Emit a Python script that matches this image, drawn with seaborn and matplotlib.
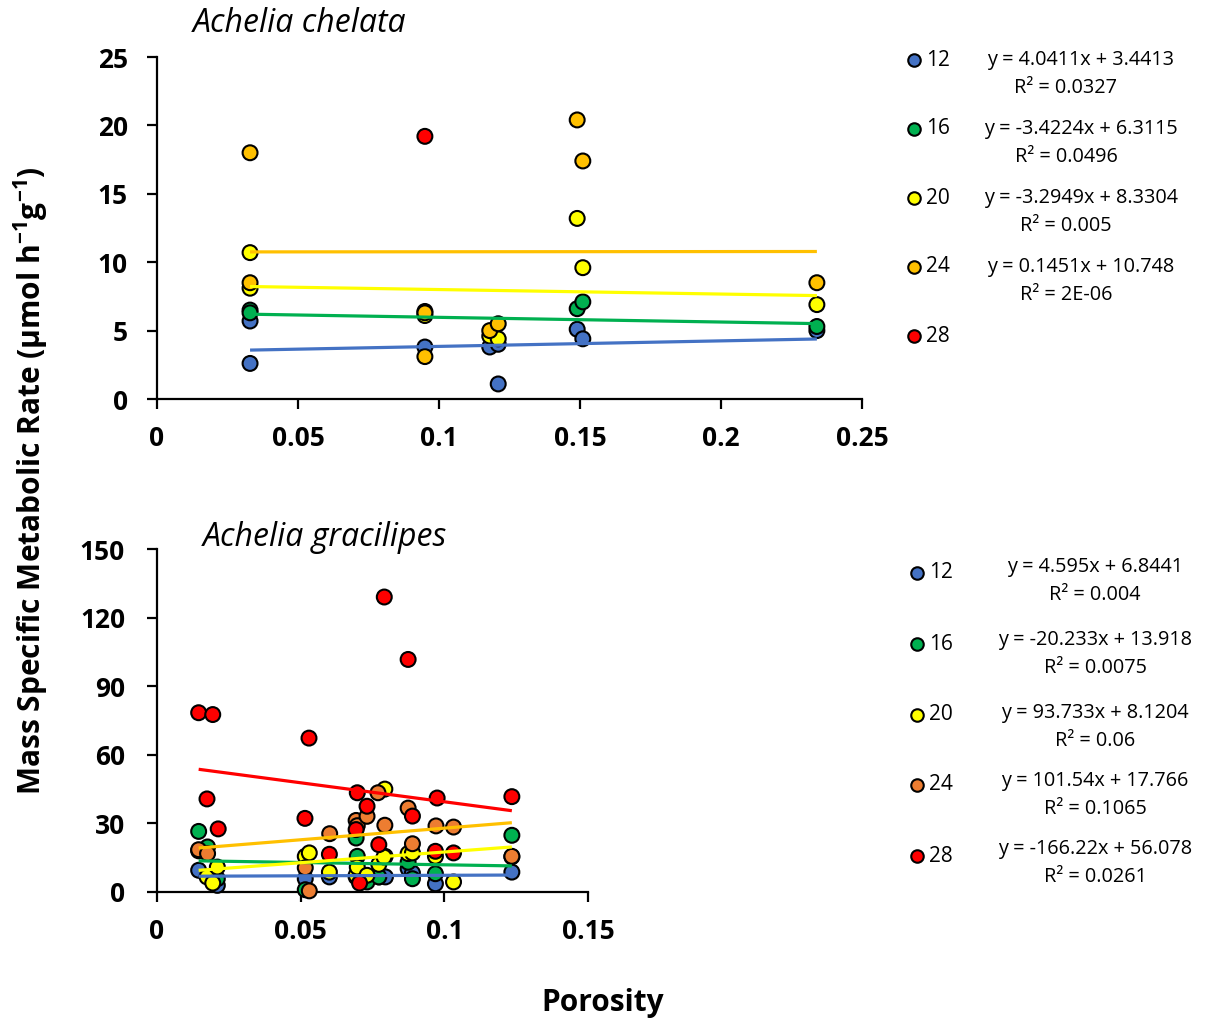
import numpy as np
import pandas as pd
import matplotlib
matplotlib.use("Agg")
import matplotlib.pyplot as plt
from matplotlib.lines import Line2D
import seaborn as sns

# ---------------- data ----------------
temps = ["12", "16", "20", "24", "28"]

# Achelia chelata
top_x_12 = [0.033, 0.033, 0.095, 0.118, 0.121, 0.121, 0.149, 0.151, 0.234]
top_y_12 = [5.7, 2.6, 3.8, 3.8, 4.0, 1.1, 5.1, 4.4, 5.0]
top_x_16 = [0.033, 0.033, 0.095, 0.149, 0.151, 0.234]
top_y_16 = [6.5, 6.3, 6.4, 6.6, 7.1, 5.3]
top_x_20 = [0.033, 0.033, 0.095, 0.118, 0.121, 0.149, 0.151, 0.234]
top_y_20 = [10.7, 8.1, 6.1, 4.6, 4.4, 13.2, 9.6, 6.9]
top_x_24 = [0.033, 0.033, 0.095, 0.095, 0.118, 0.121, 0.149, 0.151, 0.234]
top_y_24 = [18.0, 8.5, 6.3, 3.1, 5.0, 5.5, 20.4, 17.4, 8.5]
top_x_28 = [0.095]
top_y_28 = [19.2]

top_slopes = [4.0411, -3.4224, -3.2949, 0.1451]
top_intercepts = [3.4413, 6.3115, 8.3304, 10.748]
top_r2 = ["0.0327", "0.0496", "0.005", "2E-06"]

# Achelia gracilipes
bot_x_12 = [0.0145, 0.021, 0.0516, 0.060, 0.0693, 0.0773, 0.0795, 0.0874, 0.0889, 0.0969, 0.1235]
bot_y_12 = [9.5, 2.9, 5.8, 6.6, 6.6, 6.6, 6.6, 10.2, 8.3, 3.6, 8.7]
bot_x_16 = [0.0145, 0.0176, 0.021, 0.0516, 0.0693, 0.0697, 0.0731, 0.0772, 0.0794, 0.0874, 0.0889, 0.0969, 0.1235]
bot_y_16 = [26.5, 19.7, 5.8, 1.0, 23.6, 15.6, 4.4, 6.6, 15.6, 13.0, 5.8, 8.0, 24.8]
bot_x_20 = [0.0145, 0.0174, 0.0194, 0.021, 0.0516, 0.053, 0.060, 0.0693, 0.0697, 0.0731, 0.0772, 0.0790, 0.0793, 0.0874, 0.0889, 0.0969, 0.1032, 0.1235]
bot_y_20 = [18.0, 6.6, 3.9, 10.9, 15.6, 17.1, 8.7, 7.3, 10.9, 7.3, 12.1, 15.3, 45.0, 16.8, 17.1, 15.6, 4.4, 15.4]
bot_x_24 = [0.0145, 0.0176, 0.0516, 0.053, 0.0601, 0.0693, 0.0697, 0.0731, 0.0769, 0.0793, 0.0874, 0.0889, 0.0971, 0.1032, 0.1235]
bot_y_24 = [18.5, 16.8, 10.6, 0.5, 25.5, 31.3, 29.0, 33.1, 43.4, 29.2, 36.7, 21.1, 28.9, 28.4, 15.6]
bot_x_28 = [0.0145, 0.0194, 0.0174, 0.0213, 0.0515, 0.0529, 0.060, 0.0693, 0.0697, 0.0705, 0.0731, 0.0772, 0.0791, 0.0874, 0.0889, 0.0969, 0.0975, 0.1032, 0.1235]
bot_y_28 = [78.4, 77.6, 40.7, 27.6, 32.2, 67.3, 16.5, 27.3, 43.4, 3.9, 37.5, 20.7, 129.0, 101.7, 33.2, 17.8, 41.1, 17.1, 41.7]

bot_slopes = [4.595, -20.233, 93.733, 101.54, -166.22]
bot_intercepts = [6.8441, 13.918, 8.1204, 17.766, 56.078]
bot_r2 = ["0.004", "0.0075", "0.06", "0.1065", "0.0261"]

# ---------------- style ----------------
sns.set_theme(style="white")
FONT = "Open Sans"
plt.rcParams["font.family"] = [FONT, "DejaVu Sans"]
plt.rcParams["mathtext.fontset"] = "custom"
plt.rcParams["mathtext.rm"] = FONT
plt.rcParams["mathtext.bf"] = FONT + ":bold"
plt.rcParams["mathtext.default"] = "bf"
plt.rcParams["text.color"] = "black"
plt.rcParams["axes.labelcolor"] = "black"
plt.rcParams["xtick.color"] = "black"
plt.rcParams["ytick.color"] = "black"

top_point_colors = ["#4472C4", "#00B050", "#FFFF00", "#FFC000", "#FF0000"]
bot_point_colors = ["#4472C4", "#00B050", "#FFFF00", "#ED7D31", "#FF0000"]
line_colors = ["#4472C4", "#00B050", "#FFFF00", "#FFC000", "#FF0000"]

W, H = 1207, 1024
fig = plt.figure(figsize=(W / 100, H / 100), dpi=100)
fig.patch.set_facecolor("white")


def fx(px):
    return px / W


def fy(py):
    return 1 - py / H


ax1 = fig.add_axes([fx(157), fy(399), fx(862) - fx(157), fy(57) - fy(399)])
ax2 = fig.add_axes([fx(157), fy(892), fx(588) - fx(157), fy(549) - fy(892)])


def make_df(xs, ys):
    rows = []
    for t, xv, yv in zip(temps, xs, ys):
        for a, b in zip(xv, yv):
            rows.append((t, a, b))
    return pd.DataFrame(rows, columns=["T", "x", "y"])


top_df = make_df([top_x_12, top_x_16, top_x_20, top_x_24, top_x_28],
                 [top_y_12, top_y_16, top_y_20, top_y_24, top_y_28])
bot_df = make_df([bot_x_12, bot_x_16, bot_x_20, bot_x_24, bot_x_28],
                 [bot_y_12, bot_y_16, bot_y_20, bot_y_24, bot_y_28])

for ax, df, pcols, slopes, ints in [
    (ax1, top_df, top_point_colors, top_slopes, top_intercepts),
    (ax2, bot_df, bot_point_colors, bot_slopes, bot_intercepts),
]:
    sns.scatterplot(data=df, x="x", y="y", hue="T", hue_order=temps,
                    palette=dict(zip(temps, pcols)), s=115,
                    edgecolor="black", linewidth=1.5, legend=False,
                    ax=ax, zorder=3, clip_on=False)
    for i, (m, b) in enumerate(zip(slopes, ints)):
        sub = df[df["T"] == temps[i]]
        xs = np.array([sub["x"].min(), sub["x"].max()])
        ax.plot(xs, m * xs + b, color=line_colors[i], lw=2.3, zorder=4,
                solid_capstyle="butt")

# axes formatting
ax1.set_xlim(0, 0.25)
ax1.set_ylim(0, 25)
ax1.set_xticks([0, 0.05, 0.1, 0.15, 0.2, 0.25])
ax1.set_xticklabels(["0", "0.05", "0.1", "0.15", "0.2", "0.25"])
ax1.set_yticks([0, 5, 10, 15, 20, 25])

ax2.set_xlim(0, 0.15)
ax2.set_ylim(0, 150)
ax2.set_xticks([0, 0.05, 0.1, 0.15])
ax2.set_xticklabels(["0", "0.05", "0.1", "0.15"])
ax2.set_yticks([0, 30, 60, 90, 120, 150])

for ax, ypad in ((ax1, 14), (ax2, 16)):
    ax.set_facecolor("white")
    ax.set_xlabel("")
    ax.set_ylabel("")
    for s in ("top", "right"):
        ax.spines[s].set_visible(False)
    for s in ("left", "bottom"):
        ax.spines[s].set_color("black")
        ax.spines[s].set_linewidth(1.6)
    ax.tick_params(axis="both", which="major", direction="out", length=7,
                   width=1.6, color="black", labelsize=19, labelcolor="black",
                   bottom=True, left=True)
    ax.tick_params(axis="x", pad=12)
    ax.tick_params(axis="y", pad=ypad)
    for lab in ax.get_xticklabels() + ax.get_yticklabels():
        lab.set_fontweight("bold")
    ax.grid(False)

# titles
fig.text(fx(193), fy(23), "Achelia chelata", fontsize=23, style="italic",
         ha="left", va="center", color="black")
fig.text(fx(203), fy(537), "Achelia gracilipes", fontsize=23, style="italic",
         ha="left", va="center", color="black")

# axis labels
fig.text(fx(31), fy(481), r"Mass Specific Metabolic Rate (µmol h$^{-1}$g$^{-1}$)",
         rotation=90, fontsize=21.5, fontweight="bold", ha="center", va="center")
fig.text(fx(603), fy(1003), "Porosity", fontsize=21.5, fontweight="bold",
         ha="center", va="center")

# legends with equations
top_leg_y = [60, 129, 198, 267, 336]
for i, t in enumerate(temps):
    yy = top_leg_y[i]
    fig.add_artist(Line2D([fx(914)], [fy(yy)], marker="o", markersize=9,
                          markerfacecolor=top_point_colors[i],
                          markeredgecolor="black", markeredgewidth=1.5,
                          linestyle="none", transform=fig.transFigure))
    fig.text(fx(926), fy(yy), t, fontsize=15, ha="left", va="center")
    if i < len(top_slopes):
        eq = f"y = {top_slopes[i]}x + {top_intercepts[i]}"
        fig.text(fx(1081), fy(yy), eq, fontsize=14.3, ha="center", va="center")
        fig.text(fx(1066), fy(yy + 28), f"R² = {top_r2[i]}", fontsize=14.3,
                 ha="center", va="center")

bot_leg_y = [573, 644, 715, 785, 856]
bot_eq_y = [567, 640, 713, 781, 849]
for i, t in enumerate(temps):
    yy = bot_leg_y[i]
    fig.add_artist(Line2D([fx(917)], [fy(yy)], marker="o", markersize=9,
                          markerfacecolor=bot_point_colors[i],
                          markeredgecolor="black", markeredgewidth=1.5,
                          linestyle="none", transform=fig.transFigure))
    fig.text(fx(929), fy(yy), t, fontsize=15, ha="left", va="center")
    ey = bot_eq_y[i]
    eq = f"y = {bot_slopes[i]}x + {bot_intercepts[i]}"
    fig.text(fx(1095), fy(ey), eq, fontsize=14.3, ha="center", va="center")
    fig.text(fx(1095), fy(ey + 28), f"R² = {bot_r2[i]}", fontsize=14.3,
             ha="center", va="center")

fig.savefig("out.png", dpi=100, facecolor="white")
